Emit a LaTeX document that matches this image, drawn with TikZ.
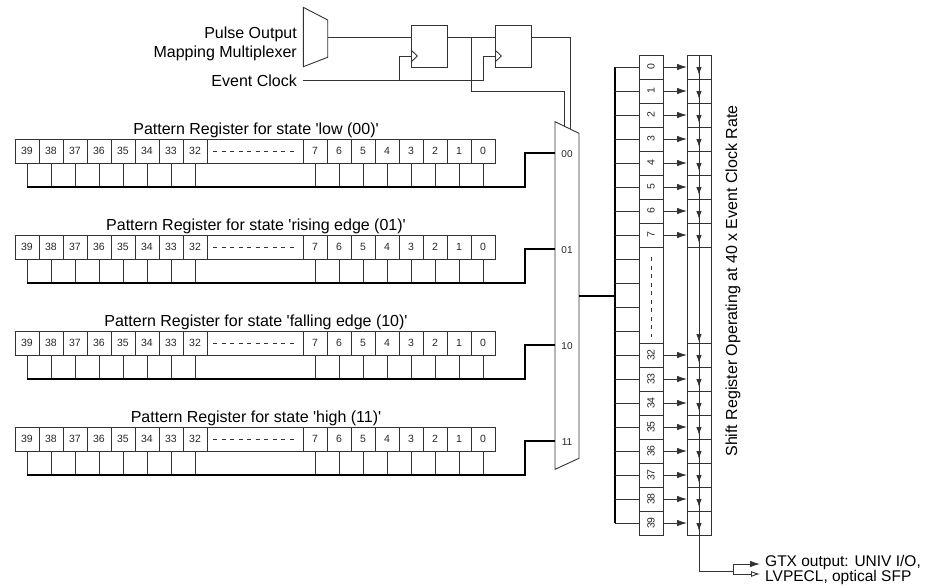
\documentclass[tikz,border=0pt]{standalone}
\usepackage{fontspec}
\setmainfont{Liberation Sans}
\usetikzlibrary{arrows.meta}
\begin{document}
\begin{tikzpicture}[x=1pt,y=-1pt,
  wire/.style={line width=0.9pt,draw=black!80},
  bus/.style={line width=2.2pt,draw=black},
  lbl/.style={font=\fontsize{16}{18}\selectfont,inner sep=0pt},
  num/.style={font=\fontsize{10.5}{12}\selectfont,inner sep=0pt,text=black!85},
  dashy/.style={wire,dash pattern=on 4pt off 4.5pt},
  arr/.style={wire,-{Latex[length=10pt,width=6.5pt]}},
  darr/.style={wire,-{Latex[length=8pt,width=5.5pt]}},
  oarr/.style={wire,-{Latex[open,length=9pt,width=6pt]}}]
\useasboundingbox (0,0) rectangle (927,587);

% ---- top: small mux, flip-flops, clock
\draw[wire] (303.3,7.3) -- (327.7,20) -- (327.7,57.3) -- (303.3,66.7) -- cycle;
\node[lbl,anchor=base east] (pulse) at (297,38.3) {Pulse Output};
\node[lbl,anchor=base east] (mapping) at (297,57.3) {Mapping Multiplexer};
\node[lbl,anchor=base east] (evclk) at (297,86) {Event Clock};
\node[wire,draw,minimum width=36pt,minimum height=42pt,inner sep=0pt] (ff1) at (429,46) {};
\node[wire,draw,minimum width=36pt,minimum height=42pt,inner sep=0pt] (ff2) at (513,46) {};
\draw[wire] (411,50) -- (417.3,56) -- (411,62);
\draw[wire] (495,50) -- (501.3,56) -- (495,62);
\coordinate (smuxout) at (327.7,37.3);
\coordinate (ff1d) at (411,37.3);
\coordinate (ff1q) at (447,37.3);
\coordinate (ff2d) at (495,37.3);
\coordinate (ff2q) at (531,37.3);
\coordinate (ff1c) at (411,56);
\coordinate (ff2c) at (495,56);
\coordinate (clkin) at (303,80);
\coordinate (mtopa) at (564.3,126.2);
\coordinate (mtopb) at (570,129);
\draw[wire] (smuxout) -- (ff1d);
\draw[wire] (ff1q) -- (ff2d);
\draw[wire] (ff2q) -- (570,37.3) -- (mtopb);
\draw[wire] (471,37.3) -- (471,91) -- (564.3,91) -- (mtopa);
\draw[wire] (clkin) -- (483,80) -- (483,56) -- (ff2c);
\draw[wire] (399,80) -- (399,56) -- (ff1c);

% ---- big mux
\draw[wire] (555,121.7) -- (579,133.3) -- (579,458.3) -- (555,469.3) -- cycle;
\coordinate (bmuxout) at (579,296);

% ---- pattern registers
\foreach \r/\st/\ml in {0/{low (00)}/00, 1/{rising edge (01)}/01, 2/{falling edge (10)}/10, 3/{high (11)}/11} {
  \pgfmathsetmacro{\T}{139+96*\r}
  \node[lbl,anchor=base] (title\r) at (256,\T-5) {Pattern Register for state \textquotesingle\st\textquotesingle};
  \draw[wire] (15,\T) rectangle (495,\T+24);
  \foreach \k in {1,...,8} \draw[wire] (15+24*\k,\T) -- ++(0,24);
  \foreach \k in {0,...,7} \draw[wire] (303+24*\k,\T) -- ++(0,24);
  \foreach \k in {0,...,7} {
    \pgfmathtruncatemacro{\va}{39-\k}
    \pgfmathtruncatemacro{\vb}{7-\k}
    \node[num] (r\r hi\k) at (27+24*\k,\T+12) {\va};
    \node[num] (r\r lo\k) at (315+24*\k,\T+12) {\vb};
    \draw[wire] (27+24*\k,\T+24) -- ++(0,24);
    \draw[wire] (315+24*\k,\T+24) -- ++(0,24);
  }
  \draw[dashy] (213,\T+12) -- (297,\T+12);
  \coordinate (in\r) at (555,\T+14);
  \draw[bus] (27,\T+48) -- (525,\T+48) -- (525,\T+14) -- (in\r);
  \node[num,font=\fontsize{10}{12}\selectfont] (ml\r) at (567,\T+15) {\ml};
}

% ---- shift register
\coordinate (bustop) at (615,67);
\coordinate (busbot) at (615,523);
\draw[bus] (bustop) -- (busbot);
\draw[bus] (bmuxout) -- (615,296);
\foreach \k in {0,...,19} \draw[wire] (615,67+24*\k) -- (639,67+24*\k);
\draw[wire] (639,55) rectangle (663,535);
\draw[wire] (687,55) rectangle (711,535);
\foreach \k in {1,...,8} {
  \draw[wire] (639,55+24*\k) -- (663,55+24*\k);
  \draw[wire] (687,55+24*\k) -- (711,55+24*\k);
}
\foreach \k in {0,...,7} {
  \draw[wire] (639,343+24*\k) -- (663,343+24*\k);
  \draw[wire] (687,343+24*\k) -- (711,343+24*\k);
}
\draw[dashy] (651,257) -- (651,337);
\coordinate (outa) at (733,571);
\draw[wire] (699,55) -- (699,571) -- (outa);
\foreach \k in {0,...,7} {
  \pgfmathtruncatemacro{\vc}{32+\k}
  \node[num,rotate=90] (sa\k) at (651,67+24*\k) {\k};
  \node[num,rotate=90] (sb\k) at (651,355+24*\k) {\vc};
  \draw[arr] (663,67+24*\k) -- (687,67+24*\k);
  \draw[arr] (663,355+24*\k) -- (687,355+24*\k);
  \draw[darr] (699,62+24*\k) -- (699,75+24*\k);
  \draw[darr] (699,350+24*\k) -- (699,363+24*\k);
}
\draw[darr] (699,329) -- (699,342);
\node[lbl,rotate=90,anchor=base] (srlabel) at (737,281) {Shift Register Operating at 40 x Event Clock Rate};

% ---- output
\coordinate (gtxa) at (760,564);
\coordinate (gtxb) at (760,574);
\draw[wire] (733,564) -- (733,574);
\draw[arr] (733,564) -- (gtxa);
\draw[oarr] (733,574) -- (gtxb);
\node[lbl,font=\fontsize{15.5}{17}\selectfont,anchor=base west] (gtx1) at (765,566) {GTX output: UNIV I/O,};
\node[lbl,font=\fontsize{15.5}{17}\selectfont,anchor=base west] (gtx2) at (765,581.5) {LVPECL, optical SFP};
\end{tikzpicture}
\end{document}
